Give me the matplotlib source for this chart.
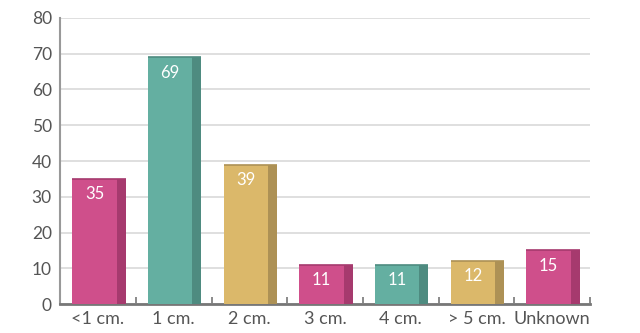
import matplotlib.pyplot as plt
import numpy as np

categories = ['<1 cm.', '1 cm.', '2 cm.', '3 cm.', '4 cm.', '> 5 cm.', 'Unknown']
values = [35, 69, 39, 11, 11, 12, 15]
front_colors = ['#CF4F8B', '#64AFA1', '#DBB86A', '#CF4F8B', '#64AFA1', '#DBB86A', '#CF4F8B']
side_colors = ['#A63A6E', '#4E8B80', '#AD9155', '#A63A6E', '#4E8B80', '#AD9155', '#A63A6E']
yticks = [0, 10, 20, 30, 40, 50, 60, 70, 80]

plt.rcParams['font.family'] = ['Lato', 'DejaVu Sans']

fig = plt.figure(figsize=(6.4, 3.33), dpi=100)
ax = fig.add_axes([0.094, 0.087, 0.828, 0.859])

x = np.arange(len(categories))
front_l, front_r, side_r = -0.34, 0.245, 0.365

ax.bar(x + front_l, values, width=front_r - front_l, align='edge',
       color=front_colors, zorder=3)
ax.bar(x + front_r, values, width=side_r - front_r, align='edge',
       color=side_colors, zorder=3)
ax.hlines(values, x + front_l, x + side_r, colors=side_colors, lw=1.2, zorder=4)

for xi, v in zip(x, values):
    ax.annotate(str(v), (xi + (front_l + front_r) / 2, v), xytext=(0, -11),
                textcoords='offset points', ha='center', va='center',
                color='white', fontsize=12, zorder=5)

ax.set_xlim(-0.5, len(categories) - 0.5)
ax.set_ylim(0, 80)
ax.set_yticks(yticks)
ax.grid(axis='y', color='#d9d9d9', lw=1.2, zorder=0)
ax.set_axisbelow(True)

ax.set_xticks(x)
ax.set_xticklabels(categories)
ax.set_xticks(np.arange(-0.5, len(categories)), minor=True)
ax.tick_params(axis='x', which='major', length=0, pad=5, labelsize=13, labelcolor='#555555')
ax.tick_params(axis='x', which='minor', direction='in', length=5, width=1.2, color='#777777')
ax.tick_params(axis='y', length=0, pad=6, labelsize=12.5, labelcolor='#555555')

for s in ['top', 'right']:
    ax.spines[s].set_visible(False)
ax.spines['left'].set_color('#999999')
ax.spines['left'].set_linewidth(1.5)
ax.spines['bottom'].set_color('#777777')
ax.spines['bottom'].set_linewidth(2)

fig.savefig('out.png', dpi=100)
